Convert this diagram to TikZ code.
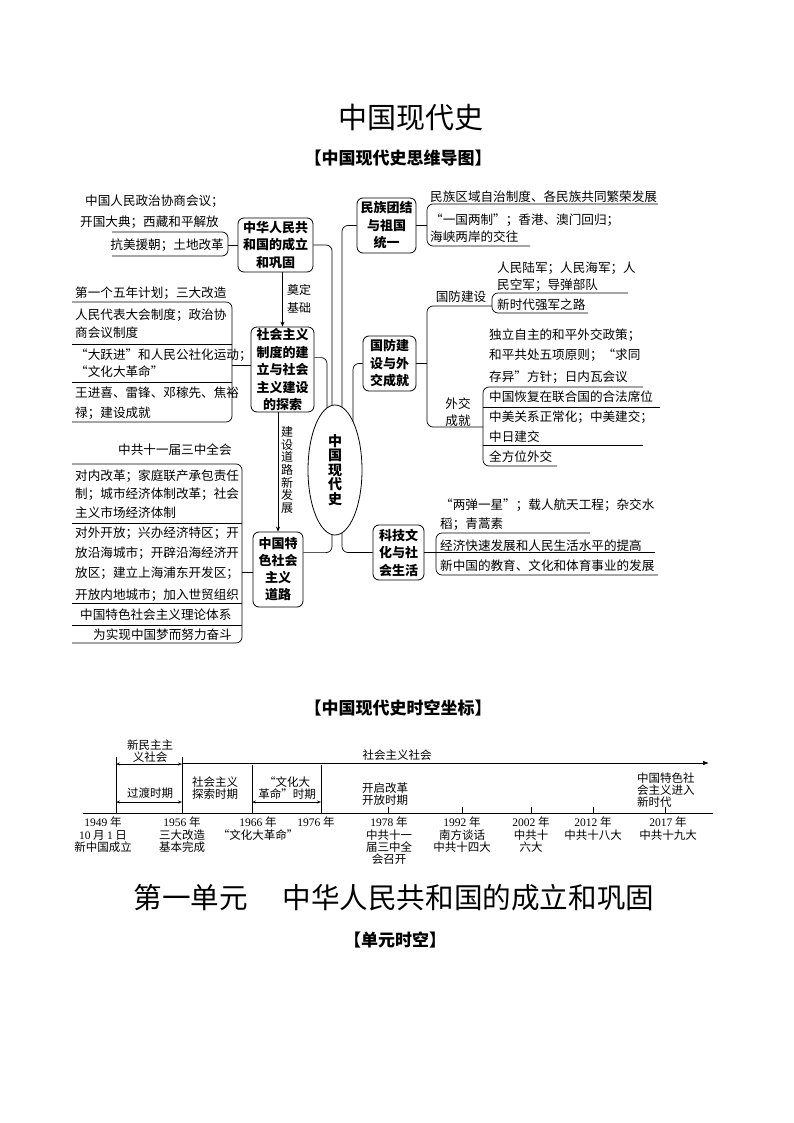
\documentclass[tikz,border=0pt]{standalone}
\usepackage{fontspec}
\setmainfont{Noto Sans CJK SC}
\newfontfamily\lat{Liberation Serif}
\usetikzlibrary{arrows.meta,calc,shapes.geometric,backgrounds}
\newcounter{ln}
\newcommand\TL[4]{\stepcounter{ln}\node[tx,anchor=base #1] (t\theln) at (#2,#3+4.5) {#4};}
\begin{document}
\begin{tikzpicture}[x=1pt,y=-1pt,
  tx/.style={inner sep=0pt,font=\fontsize{12.6}{15}\selectfont},
  box/.style={draw,rounded corners=6pt,line width=0.8pt,align=center,inner sep=0pt,font=\fontsize{13}{17.5}\selectfont\bfseries},
  ln/.style={line width=0.7pt,rounded corners=6pt},
  arr/.style={line width=0.7pt,-{Stealth[length=5pt,width=4pt]}},
  tk/.style={line width=0.7pt},
  dar/.style={line width=0.7pt,{Stealth[length=4pt,width=3pt]}-{Stealth[length=4pt,width=3pt]}},
  tlab/.style={inner sep=0pt,align=center,font=\fontsize{11.5}{12.3}\selectfont},
  hd/.style={inner sep=0pt,font=\fontsize{17}{20}\selectfont\bfseries}]
\useasboundingbox (0,0) rectangle (794,1123);
% headings
\node[inner sep=0pt,font=\fontsize{29}{30}\selectfont] (title) at (411,118) {中国现代史};
\node[hd] (h1) at (398,158) {【中国现代史思维导图】};
\node[hd] (h2) at (398,708) {【中国现代史时空坐标】};
\node[inner sep=0pt,font=\fontsize{28.6}{30}\selectfont] (h3) at (394,898) {第一单元\hspace{1.2em}中华人民共和国的成立和巩固};
\node[hd] (h4) at (395,940) {【单元时空】};

% boxes
\node[box,minimum width=75pt,minimum height=54pt] (A) at (275.5,245) {中华人民共\\和国的成立\\和巩固};
\node[box,minimum width=63pt,minimum height=85pt] (B) at (282.5,369.5) {社会主义\\制度的建\\立与社会\\主义建设\\的探索};
\node[box,minimum width=50pt,minimum height=75pt,font=\fontsize{13}{17}\selectfont\bfseries] (C) at (278,569.5) {中国特\\色社会\\主义\\道路};
\node[box,minimum width=59pt,minimum height=55pt] (D) at (386.5,225.5) {民族团结\\与祖国\\统一};
\node[box,minimum width=53pt,minimum height=55pt] (E) at (389.5,363.5) {国防建\\设与外\\交成就};
\node[box,minimum width=51pt,minimum height=55pt] (F) at (398.5,552.5) {科技文\\化与社\\会生活};
\node[ellipse,draw,fill=white,line width=0.8pt,minimum width=54pt,minimum height=130pt,inner sep=0pt,align=center,font=\fontsize{14}{14.5}\selectfont\bfseries] (M) at (335,470) {中\\国\\现\\代\\史};

% connectors to centre (behind ellipse)
\begin{pgfonlayer}{background}
\fill[white] (0,0) rectangle (794,1123);
\draw[ln] (A.east) -| ($(M.center)+(-3,0)$);
\draw[ln] (D.west) -| ($(M.center)+(7,0)$);
\draw[ln] ($(B.north east)+(0,31)$) -| ($(M.center)+(-8,0)$);
\draw[ln] (E.west) -| ($(M.center)+(18,0)$);
\draw[ln] ($(C.north east)+(0,21)$) -| ($(M.center)+(-3,0)$);
\draw[ln] (F.west) -| ($(M.center)+(7,0)$);
\end{pgfonlayer}

% vertical arrows
\draw[arr] (B.north |- A.south) -- (B.north);
\node[inner sep=0pt,align=center,font=\fontsize{12}{18}\selectfont] (lb1) at (299,299) {奠定\\基础};
\draw[arr] (C.north |- B.south) -- (C.north);
\node[inner sep=0pt,align=center,font=\fontsize{12}{12.7}\selectfont] (lb2) at (287,470) {建\\设\\道\\路\\新\\发\\展};

% group A
\TL{west}{85}{201}{中国人民政治协商会议；}
\TL{west}{80}{222}{开国大典；西藏和平解放}
\TL{east}{224}{245}{抗美援朝；土地改革}
\draw[ln] (112,232) -- (228,232) -- (228,256) -- (112,256);
\coordinate (bA) at (228,245);
\draw[ln] (bA) -- (bA -| A.west);

% group B
\TL{west}{75}{293}{第一个五年计划；三大改造}
\TL{west}{75}{315}{人民代表大会制度；政治协}
\TL{west}{75}{333}{商会议制度}
\TL{west}{75}{355}{“大跃进”和人民公社化运动；}
\TL{west}{75}{372}{“文化大革命”}
\TL{west}{75}{393}{王进喜、雷锋、邓稼先、焦裕}
\TL{west}{75}{413}{禄；建设成就}
\draw[ln] (72,302) -- (232,302) -- (232,422) -- (72,422);
\draw[tk] (72,344) -- (232,344);
\draw[tk] (72,382) -- (232,382);
\coordinate (bB) at (232,365);
\draw[ln] (bB) -- (bB -| B.west);

% group C
\TL{west}{118}{450}{中共十一届三中全会}
\TL{west}{75}{476}{对内改革；家庭联产承包责任}
\TL{west}{75}{494}{制；城市经济体制改革；社会}
\TL{west}{75}{513}{主义市场经济体制}
\TL{west}{75}{533}{对外开放；兴办经济特区；开}
\TL{west}{75}{553}{放沿海城市；开辟沿海经济开}
\TL{west}{75}{573}{放区；建立上海浦东开发区；}
\TL{west}{75}{595}{开放内地城市；加入世贸组织}
\TL{west}{80}{615}{中国特色社会主义理论体系}
\TL{west}{93}{635}{为实现中国梦而努力奋斗}
\draw[ln] (72,464) -- (242,464) -- (242,643) -- (72,643);
\draw[tk] (72,523) -- (242,523);
\draw[tk] (72,603) -- (242,603);
\draw[tk] (72,625) -- (242,625);
\coordinate (bC) at (242,572);
\draw[ln] (bC) -- (bC -| C.west);

% group D
\TL{west}{430}{197}{民族区域自治制度、各民族共同繁荣发展}
\TL{west}{430}{220}{“一国两制”；香港、澳门回归；}
\TL{west}{430}{237}{海峡两岸的交往}
\draw[ln] (658,204) -- (427,204) -- (427,246) -- (530,246);
\coordinate (bD) at (427,225.5);
\draw[ln] (D.east) -- (bD);

% group E
\coordinate (bE) at (427,363.5);
\draw[ln] (E.east) -- (bE);
\draw[ln] (492,306) -- (427,306) -- (427,427) -- (483,427);
\node[tx,anchor=center] (gf) at (461,297) {国防建设};
\node[tx,anchor=center,align=center,font=\fontsize{12.6}{17}\selectfont] (wj) at (458,412.5) {外交\\成就};
\TL{west}{497}{268}{人民陆军；人民海军；人}
\TL{west}{497}{285}{民空军；导弹部队}
\TL{west}{497}{305}{新时代强军之路}
\draw[ln] (628,293) -- (492,293) -- (492,313) -- (588,313);
\TL{west}{489}{335}{独立自主的和平外交政策；}
\TL{west}{489}{355}{和平共处五项原则；“求同}
\TL{west}{489}{377}{存异”方针；日内瓦会议}
\TL{west}{489}{397}{中国恢复在联合国的合法席位}
\TL{west}{489}{417}{中美关系正常化；中美建交；}
\TL{west}{489}{437}{中日建交}
\TL{west}{489}{457}{全方位外交}
\draw[ln] (643,387) -- (483,387) -- (483,466) -- (557,466);
\draw[tk] (483,407) -- (660,407);
\draw[tk] (483,445) -- (643,445);

% group F
\TL{west}{440}{505}{“两弹一星”；载人航天工程；杂交水}
\TL{west}{440}{524}{稻；青蒿素}
\TL{west}{440}{546}{经济快速发展和人民生活水平的提高}
\TL{west}{440}{566}{新中国的教育、文化和体育事业的发展}
\draw[ln] (590,533) -- (436,533) -- (436,575) -- (658,575);
\draw[tk] (436,552) -- (655,552);
\coordinate (bF) at (436,552.5);
\draw[ln] (F.east) -- (bF);

% timeline
\draw[tk] (83,813) -- (713,813);
\draw[line width=0.7pt,-{Latex[length=6pt,width=4.5pt]}] (182,763) -- (709,763);
\draw[tk] (116,757) -- (116,813);
\draw[tk] (182,757) -- (182,813);
\draw[tk] (252,765) -- (252,813);
\draw[tk] (321,765) -- (321,813);
\foreach \xx in {388,462,531,593,665} \draw[tk] (\xx,807) -- (\xx,813);
\draw[dar] (116,764) -- (182,764);
\draw[dar] (116,802) -- (182,802);
\draw[dar] (252,802) -- (321,802);
\node[tlab] (p1) at (150,751) {新民主主\\义社会};
\node[tlab] (p2) at (150,793) {过渡时期};
\node[tlab] (p3) at (215,788) {社会主义\\探索时期};
\node[tlab] (p4) at (287,788) {“文化大\\革命”时期};
\node[tlab] (p5) at (397,755) {社会主义社会};
\node[tlab,anchor=west,align=left] (p6) at (362,794) {开启改革\\开放时期};
\node[tlab,anchor=west,align=left] (p7) at (637,790) {中国特色社\\会主义进入\\新时代};
\node[tlab,anchor=north] (y1) at (103,817) {{\lat 1949} 年\\{\lat 10} 月 {\lat 1} 日\\新中国成立};
\node[tlab,anchor=north] (y2) at (182,817) {{\lat 1956} 年\\三大改造\\基本完成};
\node[tlab,anchor=north] (y3) at (258,817) {{\lat 1966} 年\\“文化大革命”};
\node[tlab,anchor=north] (y4) at (316,817) {{\lat 1976} 年};
\node[tlab,anchor=north] (y5) at (389,817) {{\lat 1978} 年\\中共十一\\届三中全\\会召开};
\node[tlab,anchor=north] (y6) at (462,817) {{\lat 1992} 年\\南方谈话\\中共十四大};
\node[tlab,anchor=north] (y7) at (531,817) {{\lat 2002} 年\\中共十\\六大};
\node[tlab,anchor=north] (y8) at (593,817) {{\lat 2012} 年\\中共十八大};
\node[tlab,anchor=north] (y9) at (668,817) {{\lat 2017} 年\\中共十九大};
\end{tikzpicture}
\end{document}
